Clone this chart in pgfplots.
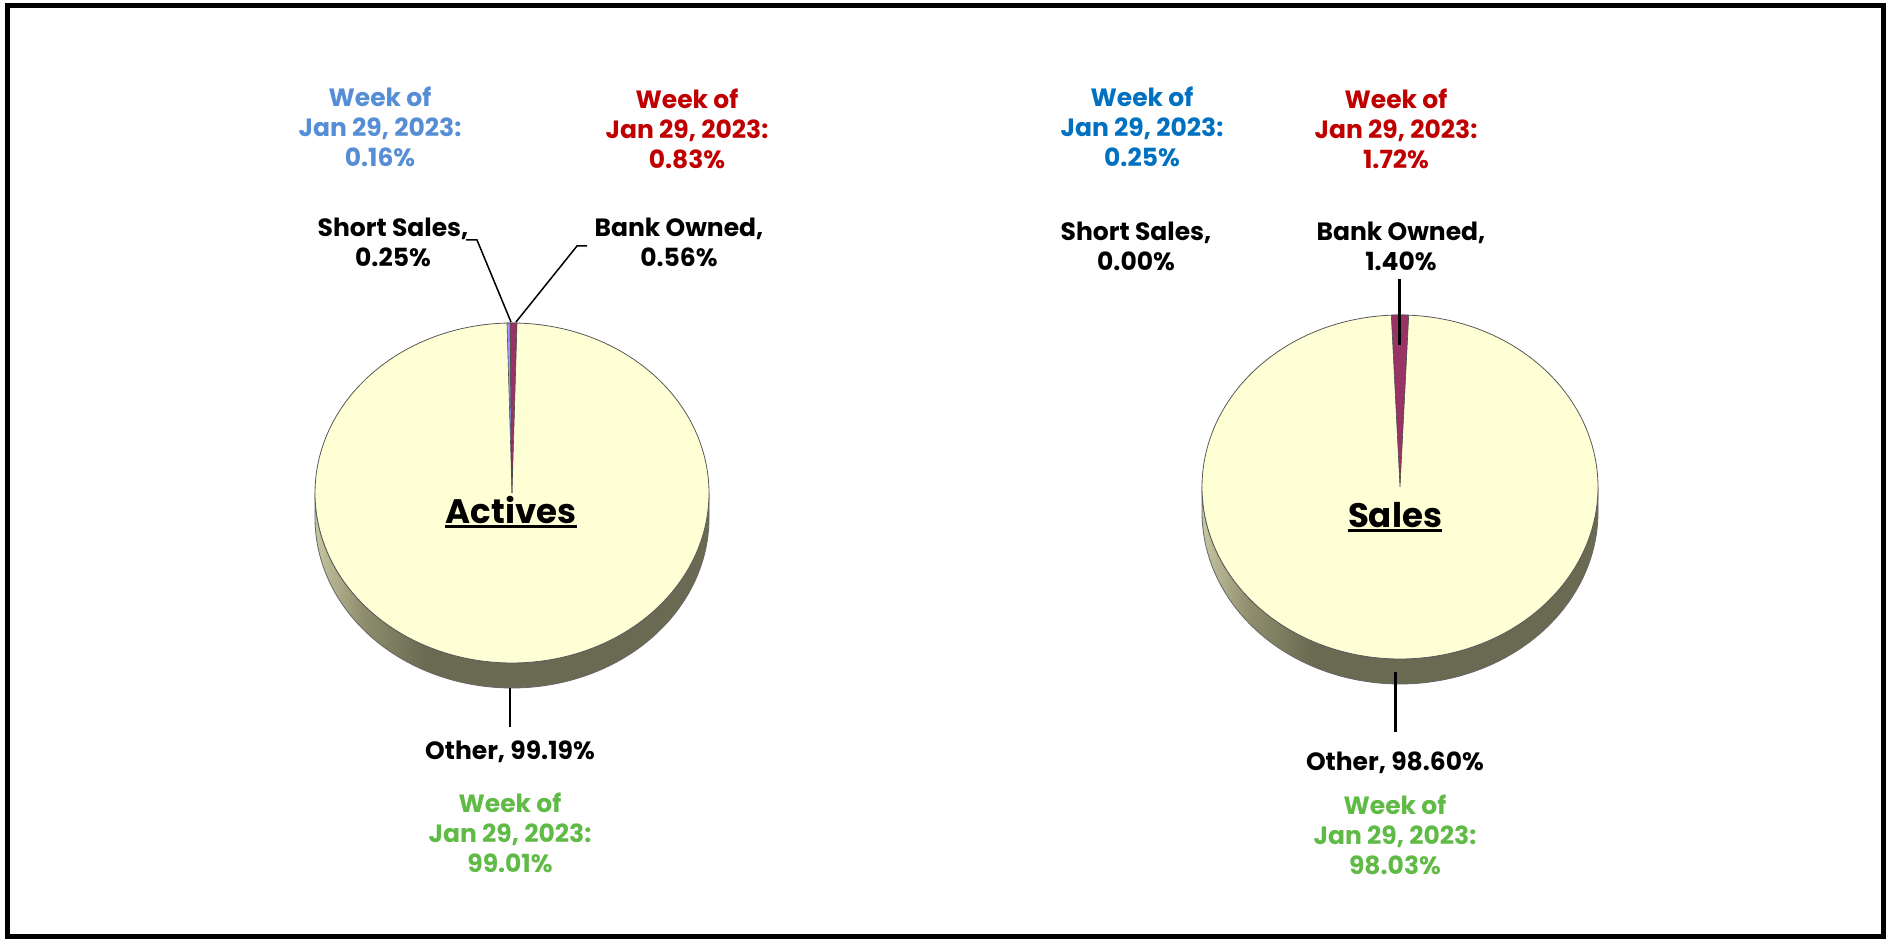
\documentclass[border=0pt]{standalone}
\usepackage{pgfplots}
\pgfplotsset{compat=1.18}
\usepackage{fontspec}
\setmainfont{Poppins}
\definecolor{pieTop}{HTML}{FFFFD5}
\definecolor{sideL}{HTML}{C6C6A2}
\definecolor{sideM}{HTML}{8E8E6E}
\definecolor{sideD}{HTML}{6A6A52}
\definecolor{sliceBlue}{HTML}{9999FF}
\definecolor{sliceMag}{HTML}{993366}
\definecolor{blueA}{HTML}{558ED5}
\definecolor{blueB}{HTML}{0070C0}
\definecolor{redW}{HTML}{C00000}
\definecolor{greenW}{HTML}{60BB46}
\pgfdeclarehorizontalshading{pieside}{100bp}{color(0bp)=(sideL); color(25bp)=(sideL); color(31bp)=(sideM); color(39bp)=(sideD); color(75bp)=(sideD); color(100bp)=(sideD)}
\tikzset{lbl/.style={font=\bfseries\fontsize{12.5}{15}\selectfont, align=center, inner sep=0pt}}
% data (percent)
\def\aShort{0.25}\def\aBank{0.56}\def\aOther{99.19}
\def\sShort{0.00}\def\sBank{1.40}\def\sOther{98.60}
\begin{document}
\begin{tikzpicture}
\pgfmathsetmacro\aStart{-1.8*(\aShort+\aBank)}
\pgfmathsetmacro\aMid{\aStart+3.6*\aShort}
\pgfmathsetmacro\aEnd{\aMid+3.6*\aBank}
\pgfmathsetmacro\sStart{-1.8*(\sShort+\sBank)}
\pgfmathsetmacro\sMid{\sStart+3.6*\sShort}
\pgfmathsetmacro\sEnd{\sMid+3.6*\sBank}
\begin{axis}[hide axis, scale only axis, width=946pt, height=470pt,
  xmin=0, xmax=1892, ymin=0, ymax=940, y dir=reverse, clip=false]
\fill[white] (axis cs:0,0) rectangle (axis cs:1892,940);
\draw[line width=2.5pt] (axis cs:7.5,5.5) rectangle (axis cs:1883.5,936.5);
% ---------- Actives pie ----------
\addplot[shading=pieside, draw=black!60, line width=0.4pt, samples at={0,2,...,180,180.01,182,184,...,360}, variable=\s]
  ({512+197*sin(\s<=180 ? 90+\s : 450-\s)}, {493-170*cos(\s<=180 ? 90+\s : 450-\s)+25*(\s>180)}) -- cycle;
\addplot[fill=pieTop, draw=black!65, line width=0.4pt, domain=0:360, samples=181, variable=\t]
  ({512+197*sin(\t)},{493-170*cos(\t)}) -- cycle;
\addplot[fill=sliceBlue, draw=black!70, line width=0.3pt, domain=\aStart:\aMid, samples=5, variable=\t]
  ({512+197*sin(\t)},{493-170*cos(\t)}) -- (axis cs:512,493) -- cycle;
\addplot[fill=sliceMag, draw=black!70, line width=0.3pt, domain=\aMid:\aEnd, samples=5, variable=\t]
  ({512+197*sin(\t)},{493-170*cos(\t)}) -- (axis cs:512,493) -- cycle;
% ---------- Sales pie ----------
\addplot[shading=pieside, draw=black!60, line width=0.4pt, samples at={0,2,...,180,180.01,182,184,...,360}, variable=\s]
  ({1400+198*sin(\s<=180 ? 90+\s : 450-\s)}, {487-172*cos(\s<=180 ? 90+\s : 450-\s)+25*(\s>180)}) -- cycle;
\addplot[fill=pieTop, draw=black!65, line width=0.4pt, domain=0:360, samples=181, variable=\t]
  ({1400+198*sin(\t)},{487-172*cos(\t)}) -- cycle;
\addplot[fill=sliceMag, draw=black!70, line width=0.3pt, domain=\sMid:\sEnd, samples=5, variable=\t]
  ({1400+198*sin(\t)},{487-172*cos(\t)}) -- (axis cs:1400,487) -- cycle;
% ---------- leader lines ----------
\draw[line width=0.75pt] (axis cs:466,240) -- (axis cs:477,240) -- (axis cs:511,322);
\draw[line width=0.75pt] (axis cs:587,246) -- (axis cs:577,246) -- (axis cs:516,322);
\draw[line width=0.75pt] (axis cs:510,688) -- (axis cs:510,727);
\draw[line width=1.5pt] (axis cs:1399,279) -- (axis cs:1399,345);
\draw[line width=1.5pt] (axis cs:1395,672) -- (axis cs:1395,732);
% ---------- texts: Actives ----------
\node[lbl, text=blueA] at (axis cs:380,127) {Week of\\Jan 29, 2023:\\0.16\%};
\node[lbl, text=redW] at (axis cs:687,129) {Week of\\Jan 29, 2023:\\0.83\%};
\node[lbl] at (axis cs:393,242) {Short Sales,\\0.25\%};
\node[lbl] at (axis cs:679,242) {Bank Owned,\\0.56\%};
\node[lbl] (act) at (axis cs:511,510) {\fontsize{17}{20}\selectfont Actives};
\draw[line width=1.4pt] ([yshift=-1.6pt]act.base west) -- ([yshift=-1.6pt]act.base east);
\node[lbl] at (axis cs:510,752) {Other, 99.19\%};
\node[lbl, text=greenW] at (axis cs:510,833) {Week of\\Jan 29, 2023:\\99.01\%};
% ---------- texts: Sales ----------
\node[lbl, text=blueB] at (axis cs:1142,127) {Week of\\Jan 29, 2023:\\0.25\%};
\node[lbl, text=redW] at (axis cs:1396,129) {Week of\\Jan 29, 2023:\\1.72\%};
\node[lbl] at (axis cs:1136,246) {Short Sales,\\0.00\%};
\node[lbl] at (axis cs:1401,246) {Bank Owned,\\1.40\%};
\node[lbl] (sal) at (axis cs:1395,515) {\fontsize{17}{20}\selectfont Sales};
\draw[line width=1.4pt] ([yshift=-1.6pt]sal.base west) -- ([yshift=-1.6pt]sal.base east);
\node[lbl] at (axis cs:1395,763) {Other, 98.60\%};
\node[lbl, text=greenW] at (axis cs:1395,835) {Week of\\Jan 29, 2023:\\98.03\%};
\end{axis}
\end{tikzpicture}
\end{document}
